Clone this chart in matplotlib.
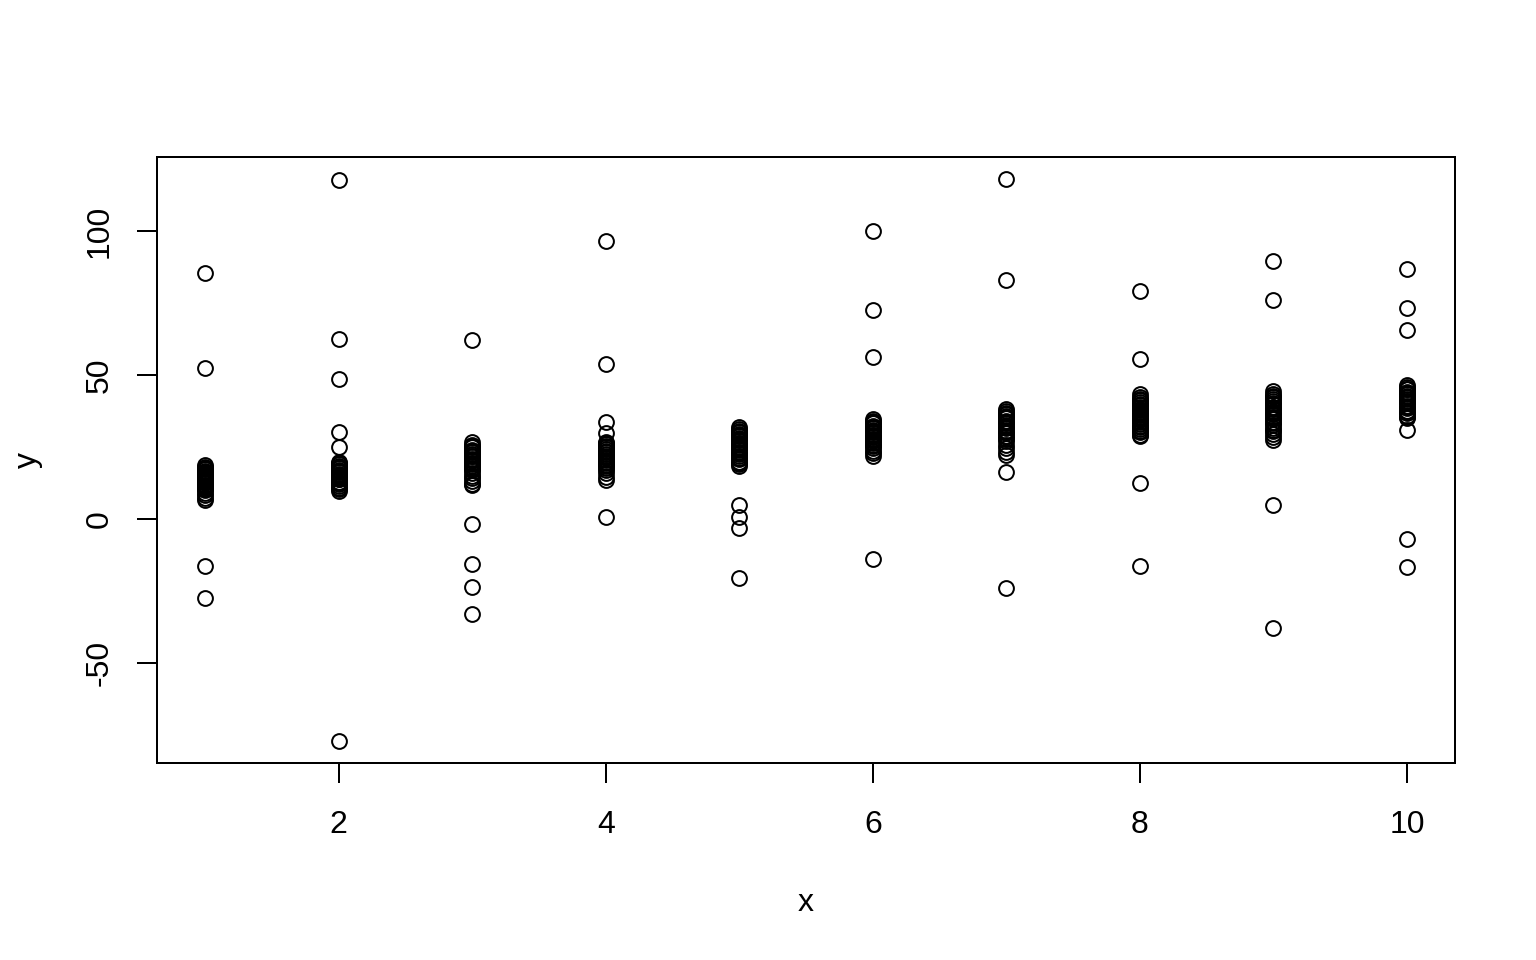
import matplotlib
matplotlib.use("Agg")
import matplotlib.pyplot as plt

plt.rcParams['font.family'] = ['Liberation Sans', 'DejaVu Sans']

y1 = [85.4, 52.4, 18.6, 18.1, 17.6, 17.2, 16.7, 16.3, 16.0, 15.6, 15.3, 14.8, 14.5, 14.2, 13.9, 13.6, 13.1, 12.8, 12.5, 11.9, 11.5, 11.2, 10.6, 10.2, 9.9, 9.1, 8.3, 7.4, 6.7, -16.3, -27.4]
y2 = [117.7, 62.5, 48.6, 30.2, 25.0, 19.8, 19.4, 19.0, 18.3, 17.9, 17.5, 16.9, 16.6, 16.2, 15.6, 15.3, 15.0, 14.3, 14.0, 13.7, 12.9, 12.5, 12.1, 11.3, 10.8, 10.4, 9.8, -77.1]
y3 = [62.2, 26.6, 25.8, 25.3, 24.9, 24.1, 23.6, 23.2, 22.4, 22.0, 21.7, 20.9, 20.5, 20.1, 19.3, 18.9, 18.4, 17.6, 17.2, 16.8, 15.9, 15.0, 14.1, 13.0, 12.1, 11.6, -1.7, -15.6, -23.6, -33.0]
y4 = [96.5, 53.8, 33.7, 29.9, 26.8, 26.4, 26.0, 25.2, 24.8, 24.4, 23.5, 23.1, 22.7, 21.8, 21.4, 21.0, 20.3, 19.9, 19.5, 18.6, 18.2, 17.8, 16.9, 15.8, 14.7, 13.6, 0.7]
y5 = [32.0, 31.1, 30.7, 30.3, 29.5, 29.1, 28.8, 28.0, 27.6, 27.3, 26.5, 26.1, 25.8, 25.0, 24.6, 24.2, 23.4, 23.0, 22.6, 21.7, 21.2, 20.8, 19.9, 19.4, 19.0, 18.4, 4.9, 0.7, -3.1, -20.5]
y6 = [100.0, 72.6, 56.3, 34.7, 33.9, 33.5, 33.2, 32.4, 32.0, 31.6, 30.8, 30.4, 30.1, 29.3, 28.9, 28.6, 27.8, 27.4, 27.0, 26.2, 25.8, 25.4, 24.5, 23.6, 22.8, 22.0, -13.9]
y7 = [118.0, 83.0, 38.2, 37.4, 36.9, 36.5, 35.7, 35.3, 34.9, 34.0, 33.6, 33.2, 32.3, 31.9, 31.5, 30.6, 30.2, 29.8, 28.9, 28.4, 27.9, 26.9, 25.8, 24.6, 23.4, 22.3, 16.3, -24.0]
y8 = [79.2, 55.6, 43.3, 42.5, 41.6, 41.2, 40.7, 39.8, 39.4, 38.9, 38.1, 37.7, 37.2, 36.4, 36.0, 35.5, 34.7, 34.3, 33.8, 32.9, 32.4, 32.0, 31.1, 30.6, 30.2, 29.3, 28.9, 12.5, -16.3]
y9 = [89.6, 76.0, 44.4, 43.5, 42.6, 42.2, 41.7, 40.8, 40.4, 39.9, 39.0, 38.6, 38.2, 37.3, 36.9, 36.4, 35.5, 35.1, 34.6, 33.7, 33.2, 32.7, 31.6, 31.0, 30.5, 29.4, 28.4, 27.5, 4.9, -37.8]
y10 = [86.8, 73.3, 65.6, 46.4, 45.7, 45.3, 45.0, 44.2, 43.8, 43.4, 42.6, 42.2, 41.8, 41.0, 40.6, 40.1, 39.3, 38.9, 38.5, 37.6, 37.2, 36.7, 35.8, 35.4, 35.0, 30.8, -6.9, -16.7]

groups = [1, 2, 3, 4, 5, 6, 7, 8, 9, 10]
series = [y1, y2, y3, y4, y5, y6, y7, y8, y9, y10]
xticks = [2, 4, 6, 8, 10]
yticks = [-50, 0, 50, 100]

xs, ys = [], []
for g, vals in zip(groups, series):
    xs += [g] * len(vals)
    ys += vals

fig = plt.figure(figsize=(1536 / 144, 960 / 144), dpi=144)
ax = fig.add_axes([157 / 1536, 1 - 763 / 960, (1455 - 157) / 1536, (763 - 157) / 960])
ax.plot(xs, ys, linestyle='none', marker='o', markersize=7.4, markerfacecolor='none',
        markeredgecolor='black', markeredgewidth=1.0)

xr = max(xs) - min(xs)
yr = max(ys) - min(ys)
ax.set_xlim(min(xs) - 0.04 * xr, max(xs) + 0.04 * xr)
ax.set_ylim(min(ys) - 0.04 * yr, max(ys) + 0.04 * yr)

ax.set_xticks(xticks)
ax.set_yticks(yticks)
ax.set_yticklabels([str(t) for t in yticks], rotation=90, va='center')
ax.tick_params(axis='both', direction='out', length=10, width=1.0, labelsize=16, color='black')
ax.tick_params(axis='x', pad=13.5)
ax.tick_params(axis='y', pad=11)
for s in ax.spines.values():
    s.set_linewidth(1.0)

ax.set_xlabel('x', fontsize=16, labelpad=24)
ax.set_ylabel('y', fontsize=16, labelpad=21)

fig.savefig('out.png', dpi=144)
